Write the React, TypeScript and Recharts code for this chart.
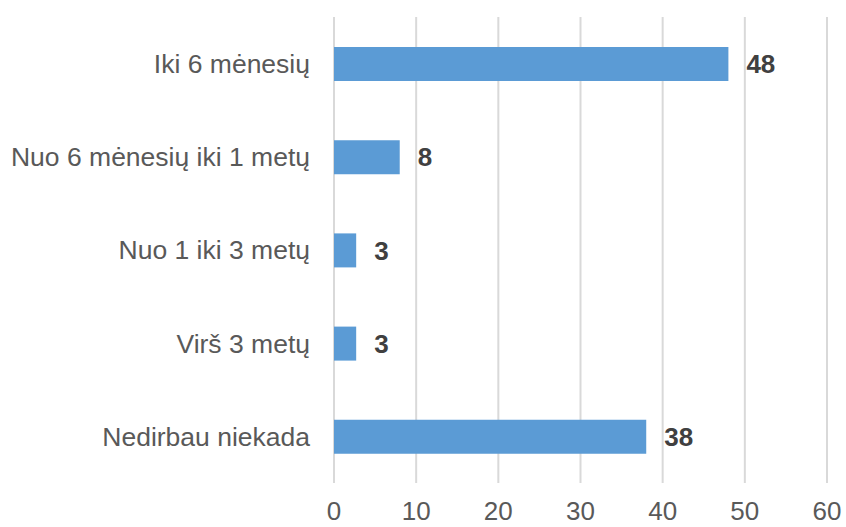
import { BarChart, Bar, XAxis, YAxis, CartesianGrid, LabelList } from 'recharts';

// Durations (Lithuanian labels) and values;
// the two short bars are ~2.7 long but labelled "3" (rounded).
const categories = [
  'Iki 6 mėnesių',
  'Nuo 6 mėnesių iki 1 metų',
  'Nuo 1 iki 3 metų',
  'Virš 3 metų',
  'Nedirbau niekada',
];
const counts = [48, 8, 2.7, 2.7, 38];
const xTicks = [0, 10, 20, 30, 40, 50, 60];

const data = categories.map((name, i) => ({ name, value: counts[i] }));

const font = '"Liberation Sans", Arial, sans-serif';

export default function App() {
  return (
    <div style={{ position: 'absolute', left: 0, top: 0, background: '#fff' }}>
      <BarChart
        width={846}
        height={527}
        data={data}
        layout="vertical"
        margin={{ top: 17, right: 19, bottom: 0, left: 0 }}
      >
        <CartesianGrid horizontal={false} stroke="#d9d9d9" strokeWidth={2} />
        <XAxis
          type="number"
          domain={[0, 60]}
          ticks={xTicks}
          axisLine={false}
          tickLine={false}
          tickSize={0}
          tickMargin={19}
          height={44}
          interval={0}
          tick={{ fill: '#595959', fontSize: 26, fontFamily: font }}
        />
        <YAxis
          type="category"
          dataKey="name"
          width={334}
          axisLine={false}
          tickLine={false}
          tickSize={0}
          tickMargin={24}
          interval={0}
          tick={{ fill: '#595959', fontSize: 26.5, fontFamily: font }}
        />
        <Bar dataKey="value" fill="#5b9bd5" barSize={34} isAnimationActive={false}>
          <LabelList
            dataKey="value"
            position="right"
            offset={18}
            formatter={(v: number) => Math.round(v)}
            fill="#404040"
            fontSize={26}
            fontWeight="bold"
            fontFamily={font}
          />
        </Bar>
      </BarChart>
    </div>
  );
}
